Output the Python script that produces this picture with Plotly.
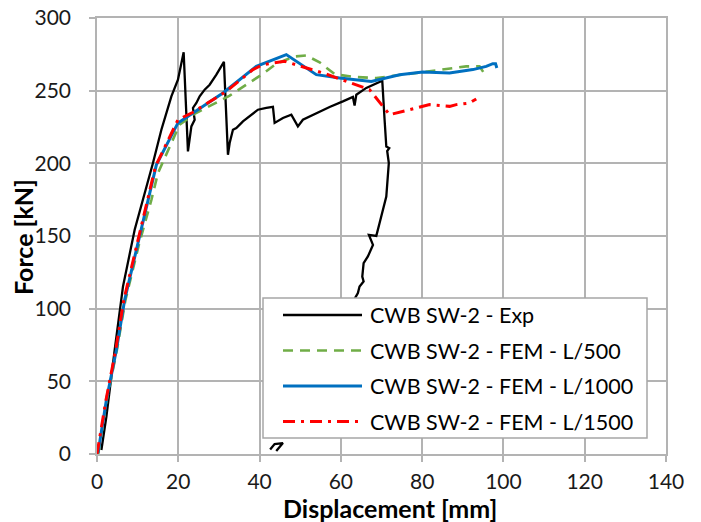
import plotly.graph_objects as go

# ---- data ----
exp_x = [1.08, 2.31, 4.35, 6.0, 6.39, 9.27, 11.31, 13.77, 15.84, 18.3, 19.92, 21.32,
         22.38, 22.8, 23.22, 24.03, 23.61, 24.45, 25.26, 26.49, 27.72, 29.37, 31.23,
         32.22, 32.64, 33.45, 34.28, 35.91, 37.56, 39.6, 41.66, 43.29, 43.7, 45.75,
         47.81, 49.43, 50.66, 53.96, 57.23, 60.5, 62.96, 63.38, 63.8, 66.26, 68.72,
         70.19, 70.76, 71.18, 71.9, 71.4, 71.8, 71.18, 69.53, 68.72, 66.9, 67.9,
         66.65, 65.6, 65.27, 65.6, 64.6, 64.19, 62.0, None, 42.6, 43.7, 45.75, 44.1]
exp_y = [2.75, 25.7, 71.6, 106.1, 115.2, 154.3, 174.9, 200.2, 223.1, 246.1, 257.6, 276.4,
         208.2, 218.5, 225.4, 230, 238.1, 241.5, 246.1, 250.7, 254.1, 261, 269.8,
         205.9, 214, 223.1, 224.3, 228.9, 232.3, 236.9, 238.1, 238.8, 227.8, 231.2,
         233.5, 225.4, 230, 234.6, 238.8, 242.6, 245.7, 239.7, 247.2, 251.9, 255.3,
         256.9, 230, 211.6, 210.5, 208.5, 200.2, 177.2, 158.9, 150.1, 150.8, 143.9,
         135.9, 131.3, 122.1, 118.7, 115.2, 110.7, 100, None, 3.1, 6.8, 7.5, 2.1]

l500_x = [0.3, 2.4, 4.9, 7.0, 10.4, 13.38, 15.0, 17.88, 20.3, 24.0, 32.65, 40.83, 44.12,
          48.5, 51.5, 54.77, 58.5, 63.0, 68.72, 78.55, 87.56, 90.85, 94.12, 94.93, 95.35]
l500_y = [0, 37, 71.6, 106, 145, 174.9, 193.3, 211.6, 226.5, 234.0, 246.6, 261.6, 268.5,
          273.5, 274.2, 269.5, 261.3, 259.5, 258.7, 262.2, 265.6, 266.7, 266.7, 263.3, 261.5]

l1000_x = [0.25, 2.31, 4.77, 6.81, 10.08, 12.54, 14.61, 19.92, 23.61, 30.99, 39.2, 46.58,
           53.96, 59.69, 67.49, 74.45, 80.18, 86.74, 92.47, 95.77, 97.39, 98.06, 98.38]
l1000_y = [0.7, 37.2, 71.6, 106.1, 145.1, 174.9, 199, 227.8, 234.6, 248.4, 266.7, 274.8,
           261, 258.7, 256.4, 261, 262.9, 262.2, 264.5, 266.7, 268.6, 268.6, 265.6]

l1500_x = [0.0, 2.2, 4.6, 6.6, 9.9, 12.4, 14.4, 19.92, 23.5, 31.82, 38.37, 40.83, 46.16,
           55.58, 63.8, 67.07, 70.34, 71.99, 76.91, 81.83, 86.75, 88.4, 91.67, 93.31]
l1500_y = [0.0, 37, 71.6, 106, 145, 174.9, 198, 230, 235, 249.5, 264.5, 267.9, 270.2,
           262.2, 254.1, 250.7, 239.2, 233.5, 236.9, 240.4, 239.2, 240.4, 241.5, 244.3]

names = ["CWB SW-2 - Exp", "CWB SW-2 - FEM - L/500",
         "CWB SW-2 - FEM - L/1000", "CWB SW-2 - FEM - L/1500"]
colors = ["#000000", "#70ad47", "#0070c0", "#ff0000"]
dashes = ["solid", "10px,7px", "solid", "12px,6px,3px,6px"]
widths = [2.3, 2.6, 3.0, 3.0]

x_ticks = [0, 20, 40, 60, 80, 100, 120, 140]
y_ticks = [0, 50, 100, 150, 200, 250, 300]

FONT = "Lato"
GRID = "#b3b3b3"

series = [(exp_x, exp_y), (l500_x, l500_y), (l1000_x, l1000_y), (l1500_x, l1500_y)]

fig = go.Figure()
for (xs, ys), n, c, d, w in zip(series, names, colors, dashes, widths):
    fig.add_trace(go.Scatter(x=xs, y=ys, mode="lines", name=n,
                             line=dict(color=c, dash=d, width=w),
                             connectgaps=False, showlegend=False))

# ---- plot-area geometry (pixels) ----
W, H = 701, 522
L, R, T, B = 97, 35, 18, 68
pw = W - L - R
ph = H - T - B

def px2x(px):
    return (px - L) / pw

def py2y(py):
    return (H - B - py) / ph

# ---- manual legend (box, sample lines, texts) ----
shapes = [dict(type="rect", xref="paper", yref="paper",
               x0=px2x(263), x1=px2x(647), y0=py2y(438), y1=py2y(298),
               fillcolor="white", line=dict(color="#a6a6a6", width=1.5), layer="above")]
annotations = []
row_py = [315, 350.5, 386, 421.5]
for n, c, d, w, rp in zip(names, colors, dashes, widths, row_py):
    shapes.append(dict(type="line", xref="paper", yref="paper",
                       x0=px2x(283), x1=px2x(362), y0=py2y(rp), y1=py2y(rp),
                       line=dict(color=c, dash=d, width=w), layer="above"))
    annotations.append(dict(text=n, xref="paper", yref="paper", x=px2x(368), y=py2y(rp),
                            xanchor="left", yanchor="middle", showarrow=False,
                            font=dict(family=FONT, size=21.5, color="#000000")))

# axis titles
annotations.append(dict(text="<b>Force [kN]</b>", xref="paper", yref="paper",
                        x=px2x(23), y=py2y(237), xanchor="center", yanchor="middle",
                        textangle=-90, showarrow=False,
                        font=dict(family=FONT, size=25, color="#000000")))
annotations.append(dict(text="<b>Displacement [mm]</b>", xref="paper", yref="paper",
                        x=px2x(390), y=py2y(508), xanchor="center", yanchor="middle",
                        showarrow=False,
                        font=dict(family=FONT, size=25, color="#000000")))

axis_common = dict(showgrid=True, gridcolor=GRID, gridwidth=1.5,
                   showline=True, linecolor=GRID, linewidth=1.5, mirror=True,
                   ticks="outside", ticklen=6, tickcolor=GRID, tickwidth=1.5,
                   zeroline=False, automargin=False,
                   tickfont=dict(family=FONT, size=21, color="#1a1a1a"))

fig.update_layout(
    width=W, height=H, autosize=False,
    margin=dict(l=L, r=R, t=T, b=B, pad=0, autoexpand=False),
    paper_bgcolor="white", plot_bgcolor="white",
    showlegend=False,
    shapes=shapes, annotations=annotations,
    xaxis=dict(range=[0, 140], tickvals=x_ticks, ticktext=[str(v) for v in x_ticks],
               ticklabelstandoff=2, **axis_common),
    yaxis=dict(range=[0, 300], tickvals=y_ticks, ticktext=[str(v) for v in y_ticks],
               ticklabelstandoff=14, **axis_common),
)

fig.write_html(
    "out.html",
    config={"responsive": False, "displayModeBar": False},
    post_script="document.body.style.margin='0';document.body.style.padding='0';"
                "document.documentElement.style.overflow='hidden';",
)
